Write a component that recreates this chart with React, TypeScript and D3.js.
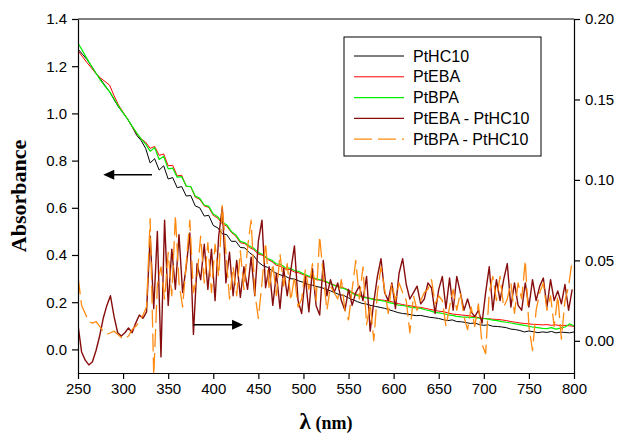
import { useRef, useEffect } from "react";
import * as d3 from "d3";

// wavelength grids (nm)
const wlSpectra = d3.range(250, 801, 5);
const wlDiff = d3.range(250, 799, 4);

// absorbance spectra (left axis)
const ptHC10 = [
  1.273, 1.25, 1.228, 1.2, 1.17, 1.145, 1.118, 1.092, 1.058, 1.027,
  1.002, 0.976, 0.944, 0.908, 0.885, 0.852, 0.79, 0.808, 0.76, 0.778,
  0.722, 0.728, 0.685, 0.69, 0.65, 0.652, 0.608, 0.6, 0.565, 0.568,
  0.525, 0.515, 0.49, 0.486, 0.458, 0.458, 0.432, 0.43, 0.41, 0.396,
  0.37, 0.355, 0.348, 0.334, 0.322, 0.315, 0.31, 0.3, 0.298, 0.29,
  0.284, 0.275, 0.272, 0.266, 0.262, 0.255, 0.248, 0.24, 0.232, 0.228,
  0.218, 0.21, 0.202, 0.195, 0.192, 0.186, 0.182, 0.178, 0.174, 0.168,
  0.162, 0.156, 0.152, 0.15, 0.146, 0.143, 0.144, 0.14, 0.136, 0.134,
  0.131, 0.126, 0.122, 0.125, 0.118, 0.117, 0.114, 0.11, 0.112, 0.105,
  0.102, 0.104, 0.098, 0.097, 0.095, 0.092, 0.086, 0.084, 0.08, 0.074,
  0.078, 0.075, 0.071, 0.074, 0.072, 0.076, 0.07, 0.073, 0.072, 0.07,
  0.074,
];
const ptEBA = [
  1.266, 1.24, 1.215, 1.192, 1.168, 1.15, 1.135, 1.12, 1.075, 1.035,
  1.005, 0.976, 0.944, 0.915, 0.892, 0.878, 0.852, 0.86, 0.822, 0.828,
  0.778, 0.78, 0.735, 0.738, 0.69, 0.69, 0.645, 0.636, 0.608, 0.602,
  0.568, 0.556, 0.532, 0.522, 0.496, 0.48, 0.452, 0.448, 0.432, 0.422,
  0.404, 0.398, 0.382, 0.372, 0.356, 0.352, 0.34, 0.338, 0.328, 0.324,
  0.316, 0.308, 0.302, 0.296, 0.292, 0.285, 0.278, 0.272, 0.265, 0.26,
  0.252, 0.24, 0.232, 0.226, 0.22, 0.216, 0.212, 0.21, 0.208, 0.204,
  0.2, 0.194, 0.19, 0.186, 0.184, 0.18, 0.178, 0.174, 0.17, 0.166,
  0.162, 0.16, 0.155, 0.15, 0.148, 0.146, 0.144, 0.142, 0.138, 0.134,
  0.131, 0.13, 0.128, 0.127, 0.125, 0.122, 0.118, 0.115, 0.112, 0.11,
  0.108, 0.106, 0.105, 0.104, 0.105, 0.102, 0.104, 0.1, 0.102, 0.1,
  0.098,
];
const ptBPA = [
  1.298, 1.265, 1.232, 1.2, 1.17, 1.14, 1.115, 1.092, 1.062, 1.03,
  1.002, 0.976, 0.946, 0.918, 0.892, 0.87, 0.84, 0.855, 0.805, 0.818,
  0.765, 0.768, 0.73, 0.732, 0.692, 0.69, 0.65, 0.64, 0.612, 0.606,
  0.574, 0.562, 0.538, 0.528, 0.5, 0.485, 0.458, 0.452, 0.438, 0.428,
  0.41, 0.402, 0.385, 0.378, 0.362, 0.36, 0.346, 0.344, 0.334, 0.33,
  0.32, 0.312, 0.306, 0.298, 0.294, 0.288, 0.278, 0.27, 0.262, 0.258,
  0.248, 0.236, 0.228, 0.222, 0.218, 0.214, 0.21, 0.208, 0.204, 0.198,
  0.194, 0.188, 0.186, 0.182, 0.178, 0.176, 0.174, 0.168, 0.164, 0.158,
  0.155, 0.152, 0.146, 0.144, 0.14, 0.138, 0.137, 0.136, 0.134, 0.132,
  0.131, 0.128, 0.124, 0.122, 0.118, 0.115, 0.112, 0.108, 0.105, 0.102,
  0.098, 0.094, 0.092, 0.089, 0.088, 0.092, 0.086, 0.09, 0.095, 0.108,
  0.1,
];

// difference spectra (right axis)
const diffEBA = [
  0.01, -0.007, -0.012, -0.015, -0.013, -0.006, 0.003, 0.014, 0.022, 0.028,
  0.015, 0.005, 0.003, 0.005, 0.008, 0.005, 0.011, 0.016, 0.014, 0.018,
  0.065, 0.02, 0.068, -0.01, 0.075, 0.022, 0.057, 0.032, 0.066, 0.03,
  0.046, 0.067, 0.004, 0.048, 0.038, 0.06, 0.032, 0.057, 0.025, 0.065,
  0.083, 0.036, 0.055, 0.028, 0.05, 0.027, 0.046, 0.032, 0.052, 0.028,
  0.062, 0.075, 0.033, 0.046, 0.022, 0.042, 0.02, 0.045, 0.028, 0.044,
  0.059, 0.025, 0.017, 0.04, 0.018, 0.045, 0.022, 0.016, 0.05, 0.028,
  0.038, 0.03, 0.036, 0.025, 0.019, 0.032, 0.022, 0.03, 0.034, 0.025,
  0.04, 0.006, 0.024, 0.04, 0.051, 0.03, 0.025, 0.036, 0.02, 0.042,
  0.051, 0.035, 0.026, 0.03, 0.034, 0.023, 0.026, 0.036, 0.033, 0.017,
  0.032, 0.04, 0.02, 0.039, 0.019, 0.04, 0.03, 0.019, 0.026, 0.018,
  0.015, 0.019, 0.011, 0.03, 0.046, 0.019, 0.038, 0.025, 0.038, 0.048,
  0.021, 0.036, 0.022, 0.019, 0.036, 0.021, 0.038, 0.025, 0.034, 0.039,
  0.021, 0.038, 0.025, 0.031, 0.023, 0.035, 0.019, 0.032,
];
const diffBPA = [
  0.04, 0.022, 0.017, 0.012, 0.011, 0.012, 0.009, 0.006, 0.004, 0.005,
  0.006, 0.004, 0.002, 0.001, 0.003, 0.007, 0.009, 0.012, 0.016, 0.021,
  0.076, -0.022, 0.035, 0.046, 0.026, 0.055, 0.028, 0.078, 0.036, 0.021,
  0.048, 0.075, 0.03, 0.04, 0.065, 0.036, 0.061, 0.03, 0.06, 0.04,
  0.084, 0.055, 0.026, 0.046, 0.028, 0.056, 0.032, 0.058, 0.075, 0.03,
  0.014, 0.036, 0.061, 0.032, 0.048, 0.028, 0.054, 0.034, 0.048, 0.025,
  0.04, 0.021, 0.026, 0.044, 0.032, 0.048, 0.025, 0.065, 0.04, 0.019,
  0.034, 0.03, 0.026, 0.038, 0.019, 0.013, 0.032, 0.05, 0.026, 0.046,
  0.01, 0.023, 0.0, 0.03, 0.046, 0.032, 0.017, 0.036, 0.025, 0.036,
  0.03, 0.025, 0.005, 0.028, 0.019, 0.025, 0.03, 0.032, 0.038, 0.023,
  0.028, 0.025, 0.009, 0.021, 0.032, 0.019, 0.03, 0.015, 0.007, 0.021,
  0.009, 0.023, -0.002, -0.008, 0.03, 0.04, 0.025, 0.04, 0.021, 0.026,
  0.036, 0.017, 0.036, 0.026, 0.05, 0.009, -0.006, 0.019, 0.03, 0.036,
  0.019, 0.028, 0.009, 0.028, 0.001, 0.025, 0.034, 0.05,
];

const xTicks = [250, 300, 350, 400, 450, 500, 550, 600, 650, 700, 750, 800];
const leftTicks = [0, 0.2, 0.4, 0.6, 0.8, 1.0, 1.2, 1.4];
const rightTicks = [0, 0.05, 0.1, 0.15, 0.2];

const seriesNames = ["PtHC10", "PtEBA", "PtBPA", "PtEBA - PtHC10", "PtBPA - PtHC10"];

// arrows pointing at the axis each group belongs to (data units)
const arrows = [
  { from: 332, to: 278, y: 0.74, axis: "left" },
  { from: 378, to: 433, y: 0.01, axis: "right" },
];

const width = 622;
const height = 434;
const margin = { top: 19, right: 48, bottom: 61, left: 78 };
const sans = "'Liberation Sans', Arial, sans-serif";
const serif = "'Liberation Serif', 'Times New Roman', serif";

const Chart = () => {
  const svgRef = useRef<SVGSVGElement>(null);

  useEffect(() => {
    const svg = d3.select(svgRef.current);
    svg.selectAll("*").remove();

    const x0 = margin.left;
    const x1 = width - margin.right;
    const yTop = margin.top;
    const yBot = height - margin.bottom;

    const x = d3.scaleLinear().domain([250, 800]).range([x0, x1]);
    const yL = d3.scaleLinear().domain([-0.1, 1.4]).range([yBot, yTop]);
    const yR = d3.scaleLinear().domain([-0.02, 0.2]).range([yBot, yTop]);

    svg
      .append("defs")
      .append("clipPath")
      .attr("id", "plotClip")
      .append("rect")
      .attr("x", x0)
      .attr("y", yTop)
      .attr("width", x1 - x0)
      .attr("height", yBot - yTop);

    const series = [
      { name: seriesNames[0], wl: wlSpectra, v: ptHC10, y: yL, color: "#000000", w: 1, dash: null },
      { name: seriesNames[1], wl: wlSpectra, v: ptEBA, y: yL, color: "#ff0000", w: 1, dash: null },
      { name: seriesNames[2], wl: wlSpectra, v: ptBPA, y: yL, color: "#00f000", w: 1.2, dash: null },
      { name: seriesNames[3], wl: wlDiff, v: diffEBA, y: yR, color: "#870c0c", w: 1.4, dash: null },
      { name: seriesNames[4], wl: wlDiff, v: diffBPA, y: yR, color: "#ff8a10", w: 1.3, dash: "18,6" },
    ];

    const plot = svg.append("g").attr("clip-path", "url(#plotClip)");
    series.forEach((s) => {
      const line = d3
        .line<number>()
        .x((_, i) => x(s.wl[i]))
        .y((d) => s.y(d));
      plot
        .append("path")
        .datum(s.v)
        .attr("d", line)
        .attr("fill", "none")
        .attr("stroke", s.color)
        .attr("stroke-width", s.w)
        .attr("stroke-linejoin", "round")
        .attr("stroke-dasharray", s.dash);
    });

    // axes
    const styleAxis = (g) => {
      g.attr("font-size", 15).attr("font-family", sans);
      g.selectAll("path").attr("stroke", "#000").attr("stroke-width", 1.2);
      g.selectAll("line").attr("stroke", "#000").attr("stroke-width", 1.2);
      g.selectAll("text").attr("fill", "#000");
    };

    svg
      .append("g")
      .attr("transform", `translate(${x0},0)`)
      .call(
        d3.axisLeft(yL).tickValues(leftTicks).tickFormat(d3.format(".1f")).tickSize(6).tickSizeOuter(0).tickPadding(5)
      )
      .call(styleAxis);

    svg
      .append("g")
      .attr("transform", `translate(${x1},0)`)
      .call(
        d3.axisRight(yR).tickValues(rightTicks).tickFormat(d3.format(".2f")).tickSize(6).tickSizeOuter(0).tickPadding(5)
      )
      .call(styleAxis);

    svg
      .append("g")
      .attr("transform", `translate(0,${yBot})`)
      .call(d3.axisBottom(x).tickValues(xTicks).tickFormat(d3.format("d")).tickSize(6).tickSizeOuter(0).tickPadding(4))
      .call(styleAxis);

    svg
      .append("line")
      .attr("x1", x0)
      .attr("x2", x1)
      .attr("y1", yTop)
      .attr("y2", yTop)
      .attr("stroke", "#000")
      .attr("stroke-width", 1.2);

    // arrows
    arrows.forEach((a) => {
      const ys = a.axis === "left" ? yL(a.y) : yR(a.y);
      const xs = x(a.from);
      const xe = x(a.to);
      const dir = xe > xs ? 1 : -1;
      svg
        .append("line")
        .attr("x1", xs)
        .attr("x2", xe - dir * 9)
        .attr("y1", ys)
        .attr("y2", ys)
        .attr("stroke", "#000")
        .attr("stroke-width", 1.4);
      svg
        .append("path")
        .attr("d", `M${xe},${ys} L${xe - dir * 11},${ys - 5} L${xe - dir * 11},${ys + 5} Z`)
        .attr("fill", "#000");
    });

    // legend
    const lg = svg.append("g");
    lg.append("rect")
      .attr("x", 344)
      .attr("y", 37)
      .attr("width", 197)
      .attr("height", 119)
      .attr("fill", "#fff")
      .attr("stroke", "#000")
      .attr("stroke-width", 1);
    series.forEach((s, i) => {
      const yy = 56 + i * 20.8;
      lg.append("line")
        .attr("x1", 354)
        .attr("x2", 404)
        .attr("y1", yy)
        .attr("y2", yy)
        .attr("stroke", s.color)
        .attr("stroke-width", s.w)
        .attr("stroke-dasharray", s.dash);
      lg.append("text")
        .attr("x", 413)
        .attr("y", yy)
        .attr("dy", "0.35em")
        .attr("font-family", sans)
        .attr("font-size", 16)
        .text(s.name);
    });

    // axis titles
    svg
      .append("text")
      .attr("transform", `translate(26,${(yTop + yBot) / 2}) rotate(-90)`)
      .attr("text-anchor", "middle")
      .attr("font-family", serif)
      .attr("font-weight", "bold")
      .attr("font-size", 22)
      .text("Absorbance");

    const xt = svg
      .append("text")
      .attr("x", (x0 + x1) / 2)
      .attr("y", 429)
      .attr("text-anchor", "middle")
      .attr("font-family", serif)
      .attr("font-weight", "bold");
    xt.append("tspan").attr("font-size", 23).text("λ");
    xt.append("tspan").attr("font-size", 18).text(" (nm)");
  }, []);

  return (
    <svg
      ref={svgRef}
      width={width}
      height={height}
      style={{ position: "absolute", left: 0, top: 0, background: "#fff" }}
    ></svg>
  );
};

export default function App() {
  return <Chart />;
}
